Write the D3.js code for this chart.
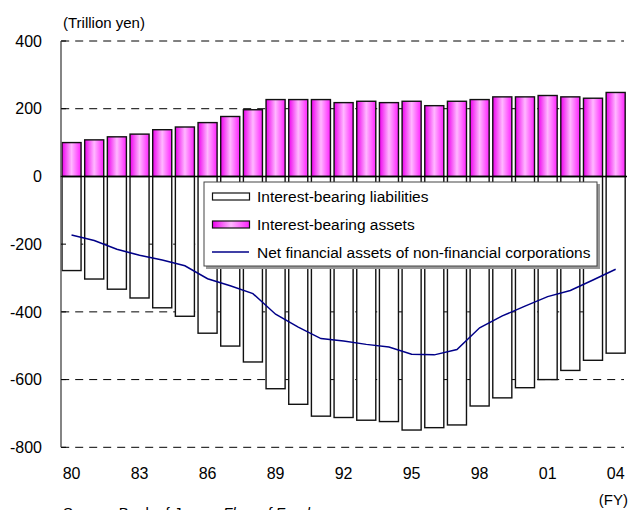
<!DOCTYPE html>
<html>
<head>
<meta charset="utf-8">
<script src="https://cdn.jsdelivr.net/npm/d3@7"></script>
<style>
  body { margin:0; background:#fff; }
  svg text { font-family: Arial, "Liberation Sans", sans-serif; fill:#000; }
</style>
</head>
<body>
<svg id="chart" width="630" height="510"></svg>
<script>
// fiscal years, 80 .. 04
let years = ["80","81","82","83","84","85","86","87","88","89","90","91","92","93","94","95","96","97","98","99","00","01","02","03","04"]
let tickYears = ["80","83","86","89","92","95","98","01","04"]
// interest-bearing assets (trillion yen)
let assets = [100,108,117,125,138,146,159,177,197,227,227,227,218,222,218,222,209,222,227,235,235,239,235,231,248]
// interest-bearing liabilities
let liabilities = [-278,-303,-333,-359,-388,-413,-463,-501,-548,-627,-673,-708,-712,-720,-724,-749,-742,-734,-678,-654,-624,-600,-573,-543,-522]
// net financial assets of non-financial corporations
let netAssets = [-173,-189,-215,-233,-247,-264,-302,-323,-346,-407,-445,-479,-486,-496,-504,-525,-527,-511,-447,-412,-383,-355,-337,-306,-274]
let yTicks = [400,200,0,-200,-400,-600,-800]

let dims = {left:60.2, right:627, top:41, bottom:447.3}
let svg = d3.select("#chart")

let x = d3.scaleBand().domain(years).range([dims.left,dims.right]).paddingInner(0.16).paddingOuter(0.08)
let y = d3.scaleLinear().domain([-800,400]).range([dims.bottom,dims.top])

// gradient for the asset bars
let grad = svg.append("defs").append("linearGradient").attr("id","pink")
  .attr("x1","0").attr("x2","1").attr("y1","0").attr("y2","0")
grad.append("stop").attr("offset","0").attr("stop-color","#ee00ee")
grad.append("stop").attr("offset","0.5").attr("stop-color","#ffb8ff")
grad.append("stop").attr("offset","1").attr("stop-color","#ff22ff")

// dashed gridlines
svg.append("g").selectAll("line").data(yTicks.filter(d=> d!=0)).join("line")
  .attr("x1",dims.left+1).attr("x2",624)
  .attr("y1",d=> y(d)).attr("y2",d=> y(d))
  .attr("stroke","#000").attr("stroke-width",1).attr("stroke-dasharray","8,6")

// liabilities
svg.append("g").selectAll("rect").data(liabilities).join("rect")
  .attr("x",(d,i)=> x(years[i]))
  .attr("width",x.bandwidth())
  .attr("y",y(0))
  .attr("height",d=> y(d)-y(0))
  .attr("fill","#fff").attr("stroke","#111").attr("stroke-width",1.4)

// assets
svg.append("g").selectAll("rect").data(assets).join("rect")
  .attr("x",(d,i)=> x(years[i]))
  .attr("width",x.bandwidth())
  .attr("y",d=> y(d))
  .attr("height",d=> y(0)-y(d))
  .attr("fill","url(#pink)").attr("stroke","#111").attr("stroke-width",1.4)

// zero line + left axis
svg.append("line").attr("x1",dims.left).attr("x2",dims.right)
  .attr("y1",y(0)).attr("y2",y(0)).attr("stroke","#000").attr("stroke-width",1.5)
svg.append("line").attr("x1",61).attr("x2",61)
  .attr("y1",y(400)).attr("y2",y(-800)).attr("stroke","#666").attr("stroke-width",1.6)
svg.append("g").selectAll("line").data(yTicks).join("line")
  .attr("x1",61).attr("x2",66).attr("y1",d=> y(d)).attr("y2",d=> y(d))
  .attr("stroke","#000").attr("stroke-width",1)

// net line
let line = d3.line().x((d,i)=> x(years[i]) + x.bandwidth()/2).y(d=> y(d))
svg.append("path").datum(netAssets).attr("d",line)
  .attr("fill","none").attr("stroke","#000088").attr("stroke-width",1.5)

// y labels
svg.append("g").selectAll("text").data(yTicks).join("text")
  .attr("x",42).attr("y",d=> y(d)).attr("dy","0.36em")
  .attr("text-anchor","end").style("font-size","16px")
  .text(d=> d)

// x labels
svg.append("g").selectAll("text").data(tickYears).join("text")
  .attr("x",d=> x(d)+x.bandwidth()/2).attr("y",479)
  .attr("text-anchor","middle").style("font-size","16px")
  .text(d=> d)

svg.append("text").attr("x",63).attr("y",28).style("font-size","15px").text("(Trillion yen)")
svg.append("text").attr("x",628).attr("y",505).attr("text-anchor","end").style("font-size","15px").text("(FY)")
// source note sits at the very bottom edge, as in the original
let src = svg.append("text").attr("x",63).attr("y",518).style("font-size","15px")
src.append("tspan").text("Source: Bank of Japan, ")
src.append("tspan").style("font-style","italic").text("Flow of Funds")

// legend
let lg = svg.append("g").attr("transform","translate(204,182)")
lg.append("rect").attr("x",2).attr("y",2).attr("width",394).attr("height",85).attr("fill","#999")
lg.append("rect").attr("width",393).attr("height",84).attr("fill","#fff").attr("stroke","#444").attr("stroke-width",1)
let legendItems = [
  {label:"Interest-bearing liabilities", type:"liab"},
  {label:"Interest-bearing assets", type:"asset"},
  {label:"Net financial assets of non-financial corporations", type:"line"}
]
legendItems.forEach((e,i)=> {
  let yy = 14 + i*28
  if (e.type == "line") {
    lg.append("line").attr("x1",8).attr("x2",45).attr("y1",yy).attr("y2",yy)
      .attr("stroke","#000088").attr("stroke-width",1.5)
  } else {
    lg.append("rect").attr("x",8.5).attr("y",yy-3).attr("width",37).attr("height",7)
      .attr("fill",e.type=="asset" ? "url(#pink)" : "#fff").attr("stroke","#111").attr("stroke-width",1.2)
  }
  lg.append("text").attr("x",53).attr("y",yy).attr("dy","0.36em").style("font-size","15.5px").text(e.label)
})
</script>
</body>
</html>
